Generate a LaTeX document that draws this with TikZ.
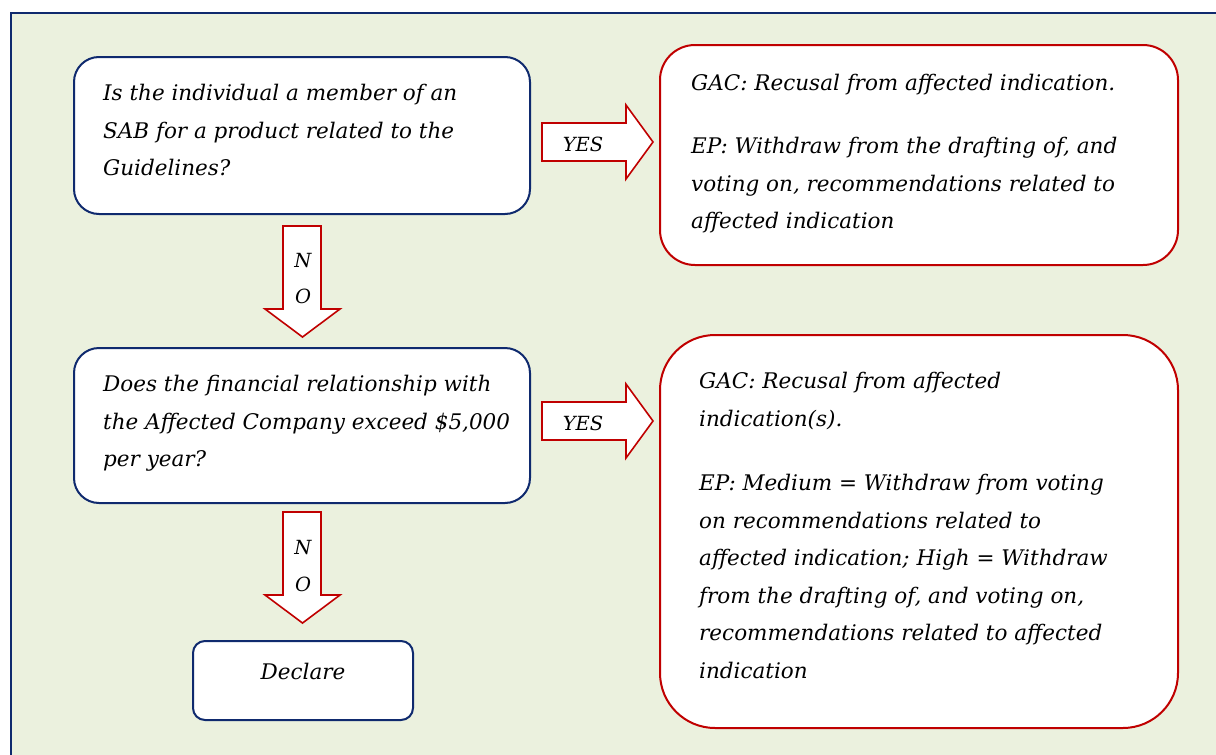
\documentclass[tikz,border=0pt]{standalone}
\usepackage{fontspec}
\setmainfont{DejaVu Serif}
\begin{document}
\begin{tikzpicture}[x=1pt,y=-1pt,
  bg/.style={fill=bggreen,draw=navy,line width=2.2pt},
  qbox/.style={draw=navy,fill=white,line width=2pt},
  abox/.style={draw=redline,fill=white,line width=2pt},
  blockarrow/.style={draw=redline,fill=white,line width=1.6pt,line join=miter},
  txt/.style={inner sep=0pt,anchor=north west,align=left,font=\fontsize{21.5}{37.5}\selectfont\itshape},
  lbl/.style={inner sep=0pt,font=\fontsize{19.5}{22}\selectfont\itshape}]
\definecolor{bggreen}{HTML}{EBF1DE}
\definecolor{navy}{HTML}{0F2A6E}
\definecolor{redline}{HTML}{C00000}
\useasboundingbox (0,0) rectangle (1216,755);
\fill[white] (0,0) rectangle (1216,755);
\draw[bg] (11,13) rectangle (1230,770);
% boxes
\draw[qbox,rounded corners=25pt] (74,57) rectangle (530,214);
\node (q1) at (302,135.5) {};
\draw[abox,rounded corners=35pt] (660,45) rectangle (1178,265);
\node (a1) at (919,155) {};
\draw[qbox,rounded corners=25pt] (74,348) rectangle (530,503);
\node (q2) at (302,425.5) {};
\draw[abox,rounded corners=55pt] (660,335) rectangle (1178,728);
\node (a2) at (919,531) {};
\draw[qbox,rounded corners=12pt] (193,641) rectangle (413,720);
\node[lbl,font=\fontsize{21.5}{25}\selectfont\itshape] (d) at (303,671) {Declare};
% texts
\node[txt] (t1) at (103,84) {Is the individual a member of an\\SAB for a product related to the\\Guidelines?};
\node[txt] (t2) at (691,74) {GAC: Recusal from affected indication.};
\node[txt] (t3) at (691,137) {EP: Withdraw from the drafting of, and\\voting on, recommendations related to\\affected indication};
\node[txt] (t4) at (103,375) {Does the financial relationship with\\the Affected Company exceed \$5,000\\per year?};
\node[txt] (t5) at (699,372) {GAC: Recusal from affected\\indication(s).};
\node[txt] (t6) at (699,474) {EP: Medium = Withdraw from voting\\on recommendations related to\\affected indication; High = Withdraw\\from the drafting of, and voting on,\\recommendations related to affected\\indication};
% block arrows
\draw[blockarrow] (542,123)--(626,123)--(626,105)--(653,142)--(626,179)--(626,161)--(542,161)--cycle;
\node[lbl] (y1) at (583,144) {YES};
\draw[blockarrow] (542,402)--(626,402)--(626,384)--(653,421)--(626,458)--(626,440)--(542,440)--cycle;
\node[lbl] (y2) at (583,423) {YES};
\draw[blockarrow] (283,226)--(321,226)--(321,309)--(340,309)--(302.5,337)--(265,309)--(283,309)--cycle;
\node[lbl] (n1) at (303,261) {N};
\node[lbl] (o1) at (303,296) {O};
\draw[blockarrow] (283,512)--(321,512)--(321,595)--(340,595)--(302.5,623)--(265,595)--(283,595)--cycle;
\node[lbl] (n2) at (303,548) {N};
\node[lbl] (o2) at (303,584) {O};
\end{tikzpicture}
\end{document}
